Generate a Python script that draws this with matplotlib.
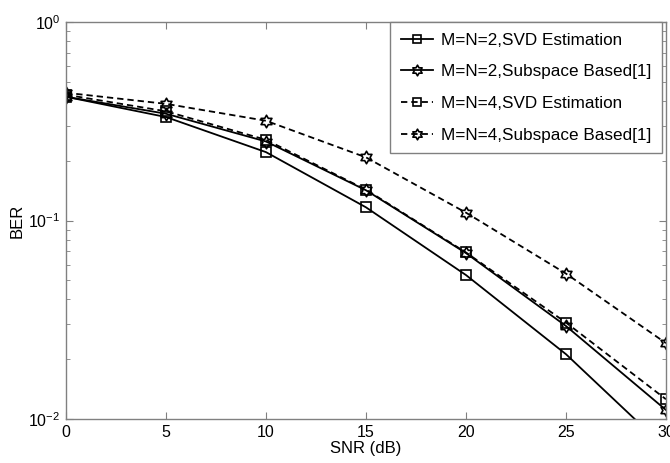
import numpy as np
import matplotlib
matplotlib.use("Agg")
import matplotlib.pyplot as plt
from matplotlib.path import Path

plt.rcParams['font.family'] = ['Liberation Sans', 'DejaVu Sans']

snr = [0, 5, 10, 15, 20, 25, 30]
ber_svd_2 = [0.420, 0.332, 0.221, 0.1165, 0.0531, 0.0212, 0.0071]
ber_sub_2 = [0.420, 0.345, 0.250, 0.1420, 0.0685, 0.0294, 0.0111]
ber_svd_4 = [0.430, 0.355, 0.255, 0.1430, 0.0690, 0.0306, 0.01257]
ber_sub_4 = [0.440, 0.387, 0.318, 0.2080, 0.1095, 0.0540, 0.0241]

labels = ["M=N=2,SVD Estimation",
          "M=N=2,Subspace Based[1]",
          "M=N=4,SVD Estimation",
          "M=N=4,Subspace Based[1]"]

# six-pointed star marker (hexagram)
ang_out = np.deg2rad(90 + 60 * np.arange(6))
ang_in = ang_out + np.deg2rad(30)
r_in = 1 / np.sqrt(3)
verts = []
for a, b in zip(ang_out, ang_in):
    verts.append((np.cos(a), np.sin(a)))
    verts.append((r_in * np.cos(b), r_in * np.sin(b)))
verts.append(verts[0])
codes = [Path.MOVETO] + [Path.LINETO] * (len(verts) - 2) + [Path.CLOSEPOLY]
hexagram = Path(verts, codes)

fig = plt.figure(figsize=(6.7, 4.63), dpi=100)
ax = fig.add_axes([66 / 670, 44 / 463, 600 / 670, 397 / 463])

dash = (0, (3.5, 2.2))
common = dict(color='black', lw=1.3, markerfacecolor='none',
              markeredgecolor='black', markeredgewidth=1.2, clip_on=True)
ax.plot(snr, ber_svd_2, linestyle='-', marker='s', markersize=7.5, label=labels[0], **common)
ax.plot(snr, ber_sub_2, linestyle='-', marker=hexagram, markersize=9, label=labels[1], **common)
ax.plot(snr, ber_svd_4, linestyle=dash, marker='s', markersize=7.5, label=labels[2], **common)
ax.plot(snr, ber_sub_4, linestyle=dash, marker=hexagram, markersize=9, label=labels[3], **common)

ax.set_yscale('log')
ax.set_xlim(0, 30)
ax.set_ylim(1e-2, 1e0)
ax.set_xticks(snr)
ax.set_xticklabels([str(v) for v in snr])
ax.set_xlabel('SNR (dB)', fontsize=12, labelpad=1)
ax.set_ylabel('BER', fontsize=12, labelpad=2.5)

axis_gray = '#808080'
for s in ax.spines.values():
    s.set_color(axis_gray)
    s.set_linewidth(1.0)
ax.tick_params(which='both', direction='in', top=True, right=True,
               color=axis_gray, labelsize=11.5, labelcolor='black')
ax.tick_params(which='major', length=5, pad=4)
ax.tick_params(which='minor', length=3)

leg = ax.legend(loc='upper right', bbox_to_anchor=(596 / 600, 1.0),
                borderaxespad=0, fontsize=12.3, fancybox=False, framealpha=1,
                edgecolor=axis_gray, handlelength=1.9, handletextpad=0.45,
                labelspacing=0.98, borderpad=0.62, markerscale=0.85)
leg.get_frame().set_linewidth(1.0)

fig.savefig('out.png', dpi=100)
